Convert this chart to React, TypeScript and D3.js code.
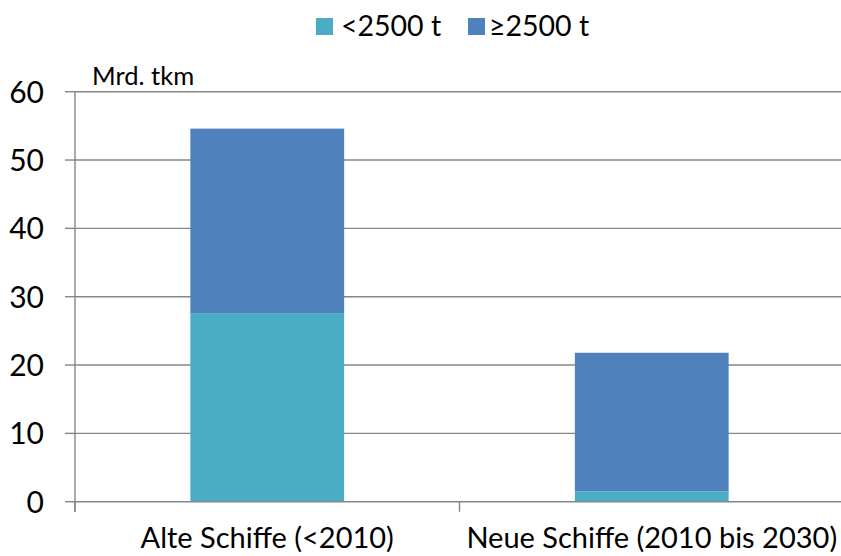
import React from "react";
import * as d3 from "d3";

// Transport performance by vessel age group, stacked by tonnage class
const categories = ["Alte Schiffe (<2010)", "Neue Schiffe (2010 bis 2030)"];
const seriesNames = ["<2500 t", "≥2500 t"];
const small = [27.6, 1.5];
const large = [27.0, 20.3];
const yTicks = [0, 10, 20, 30, 40, 50, 60];
const unitLabel = "Mrd. tkm";

const colors = ["#4BACC6", "#4F81BD"];
const axisColor = "#868686";
const font = "Lato, 'Open Sans', sans-serif";

const W = 841;
const H = 556;
const left = 75;
const right = 844;
const top = 91.7;
const bottom = 501.7;

export default function App() {
  const x = d3.scaleBand<string>().domain(categories).range([left, right]).paddingInner(0.6).paddingOuter(0.3);
  const y = d3.scaleLinear().domain([0, 60]).range([bottom, top]);

  const rows = categories.map((c, i) => ({ cat: c, small: small[i], large: large[i] }));
  const stack = d3.stack<any>().keys(["small", "large"])(rows);

  const step = (right - left) / categories.length;
  const catTicks = d3.range(categories.length + 1).map((i) => left + i * step);

  return (
    <svg
      width={W}
      height={H}
      style={{ position: "absolute", left: 0, top: 0, background: "#fff" }}
      fontFamily={font}
    >
      {/* legend */}
      <g>
        <rect x={316} y={18} width={17} height={17} fill={colors[0]} />
        <text x={341} y={36} fontSize={28.5} fill="#000">{seriesNames[0]}</text>
        <rect x={468} y={18} width={17} height={17} fill={colors[1]} />
        <text x={489} y={36} fontSize={28.5} fill="#000">{seriesNames[1]}</text>
      </g>

      {/* gridlines and y ticks */}
      {yTicks.map((t) => (
        <g key={t}>
          {t > 0 && (
            <line x1={left} x2={W} y1={y(t)} y2={y(t)} stroke={axisColor} strokeWidth={1.4} />
          )}
          <line x1={left - 10} x2={left} y1={y(t)} y2={y(t)} stroke={axisColor} strokeWidth={1.4} />
          <text x={44} y={y(t)} dy="0.36em" textAnchor="end" fontSize={30} fill="#000">
            {t}
          </text>
        </g>
      ))}

      {/* stacked bars */}
      {stack.map((layer, li) => (
        <g key={li} fill={colors[li]}>
          {layer.map((d: any, i: number) => (
            <rect
              key={i}
              x={x(categories[i])}
              width={x.bandwidth()}
              y={y(d[1])}
              height={y(d[0]) - y(d[1])}
            />
          ))}
        </g>
      ))}

      {/* axes */}
      <line x1={left} x2={left} y1={top} y2={bottom + 10} stroke={axisColor} strokeWidth={1.4} />
      <line x1={left} x2={W} y1={bottom} y2={bottom} stroke={axisColor} strokeWidth={1.4} />
      {catTicks.map((tx, i) => (
        <line key={i} x1={tx} x2={tx} y1={bottom} y2={bottom + 10} stroke={axisColor} strokeWidth={1.4} />
      ))}

      {/* category labels */}
      {categories.map((c) => (
        <text
          key={c}
          x={(x(c) as number) + x.bandwidth() / 2}
          y={548}
          textAnchor="middle"
          fontSize={29}
          fill="#000"
        >
          {c}
        </text>
      ))}

      {/* unit label */}
      <text x={92} y={85} fontSize={25.5} fill="#000">{unitLabel}</text>
    </svg>
  );
}
